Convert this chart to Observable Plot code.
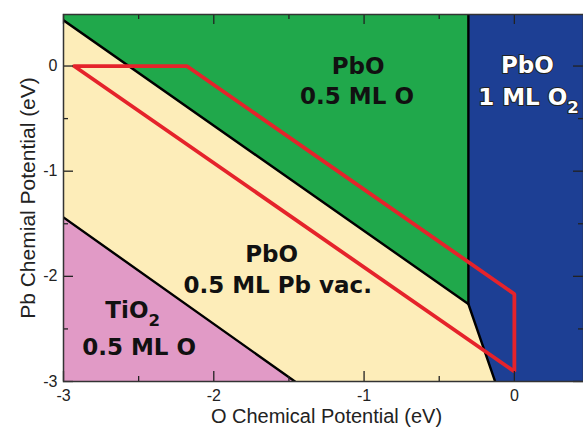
<!DOCTYPE html>
<html><head><meta charset="utf-8">
<script src="https://cdn.jsdelivr.net/npm/d3@7"></script>
<script src="https://cdn.jsdelivr.net/npm/@observablehq/plot@0.6"></script>
<style>body{margin:0;background:#fff} #chart svg{display:block}</style>
</head><body><div id="chart"></div>
<script>
// Axis extents and ticks (eV)
const xDomain = [-3, 0.46];
const yDomain = [-3, 0.49];
const majorTicks = [-3, -2, -1, 0];
const minorTicks = [-2.5, -1.5, -0.5];

// Phase regions (vertices, eV): x, lower y, upper y
const greenX = [-3, -0.306];
const greenLow = [0.435, -2.263];
const blueX = [-0.306, -0.128, 0.46];
const blueLow = [-2.263, -3, -3];
const pinkX = [-3, -1.46];
const pinkHigh = [-1.44, -3];

// Phase boundary lines (black)
const boundaryId = ["a", "a", "b", "b", "b", "c", "c"];
const boundaryX = [-3, -0.306, -0.306, -0.306, -0.128, -3, -1.46];
const boundaryY = [0.435, -2.263, 0.49, -2.263, -3, -1.44, -3];

// Red outlined region
const redX = [-2.93, -2.18, 0, 0, -2.93, -2.18];
const redY = [0, 0, -2.168, -2.905, 0, 0];

// Region labels (one entry per line)
const darkText = ["PbO", "0.5 ML O", "PbO", "0.5 ML Pb vac.", "TiO₂", "0.5 ML O"];
const darkX = [-1.040, -1.047, -1.615, -1.575, -2.540, -2.497];
const darkY = [-0.072, -0.365, -1.867, -2.162, -2.396, -2.746];
const lightText = ["PbO", "1 ML O₂"];
const lightX = [0.087, 0.094];
const lightY = [-0.067, -0.375];

const GREEN = "#20a84b", BLUE = "#1d3f94", BEIGE = "#fdedb9", PINK = "#e19ac6", RED = "#e5232b";
const FONT = "'Liberation Sans', Arial, sans-serif";
const LFONT = "'DejaVu Sans', sans-serif";

const W = 583, H = 427, ML = 63, MR = 0, MT = 14, MB = 46;
const FW = W - ML - MR, FH = H - MT - MB;

const idx = a => a.map((_, i) => i);
// inward ticks on all four sides
const TICK = {stroke: "#222", strokeWidth: 1.3};
const tickMarks = (ticks, len) => [
  Plot.tickX(ticks, {x: d => d, insetTop: FH - len, ...TICK}),
  Plot.tickX(ticks, {x: d => d, insetBottom: FH - len, ...TICK}),
  Plot.tickY(ticks, {y: d => d, insetRight: FW - len, ...TICK}),
  Plot.tickY(ticks, {y: d => d, insetLeft: FW - len, ...TICK})
];

const plot = Plot.plot({
  width: W, height: H,
  marginLeft: ML, marginRight: MR, marginTop: MT, marginBottom: MB,
  x: {domain: xDomain},
  y: {domain: yDomain},
  axis: null,
  style: {fontFamily: FONT, color: "#222", background: "#fff"},
  marks: [
    Plot.frame({fill: BEIGE}),
    Plot.areaY(idx(greenX), {x: i => greenX[i], y1: i => greenLow[i], y2: () => yDomain[1], fill: GREEN}),
    Plot.areaY(idx(blueX), {x: i => blueX[i], y1: i => blueLow[i], y2: () => yDomain[1], fill: BLUE}),
    Plot.areaY(idx(pinkX), {x: i => pinkX[i], y1: () => yDomain[0], y2: i => pinkHigh[i], fill: PINK}),
    Plot.line(idx(boundaryX), {x: i => boundaryX[i], y: i => boundaryY[i], z: i => boundaryId[i], stroke: "#000", strokeWidth: 2.4, clip: "frame"}),
    Plot.line(idx(redX), {x: i => redX[i], y: i => redY[i], stroke: RED, strokeWidth: 3.8, strokeLinejoin: "miter", clip: "frame"}),
    Plot.text(idx(darkText), {x: i => darkX[i], y: i => darkY[i], text: i => darkText[i], lineAnchor: "bottom", fontSize: 23, fontWeight: "bold", fontFamily: LFONT, fill: "#111"}),
    Plot.text(idx(lightText), {x: i => lightX[i], y: i => lightY[i], text: i => lightText[i], lineAnchor: "bottom", fontSize: 23, fontWeight: "bold", fontFamily: LFONT, fill: "#fff", stroke: "#222", strokeWidth: 2}),
    ...tickMarks(majorTicks, 10),
    ...tickMarks(minorTicks, 5),
    // tick labels
    Plot.axisX({ticks: majorTicks, anchor: "bottom", tickSize: 0, tickPadding: 8, tickFormat: d => String(d), label: null, fontSize: 16, fill: "#222"}),
    Plot.axisY({ticks: majorTicks, anchor: "left", tickSize: 0, tickPadding: 6, tickFormat: d => String(d), label: null, fontSize: 16, fill: "#222"}),
    Plot.frame({stroke: "#333", strokeWidth: 1.5}),
    // axis titles
    Plot.text(["O Chemical Potential (eV)"], {frameAnchor: "bottom", lineAnchor: "bottom", textAnchor: "middle", dy: 41.5, dx: 3, fontSize: 20, fill: "#222"}),
    Plot.text(["Pb Chemial Potential (eV)"], {frameAnchor: "left", lineAnchor: "bottom", textAnchor: "middle", rotate: -90, dx: -29, fontSize: 21, fill: "#222"})
  ]
});

// Render "₂" as a true subscript
const NS = "http://www.w3.org/2000/svg";
plot.querySelectorAll("text").forEach(t => {
  const targets = t.querySelectorAll("tspan").length ? Array.from(t.querySelectorAll("tspan")) : [t];
  targets.forEach(el => {
    const s = el.textContent;
    if (!s.includes("₂")) return;
    const parts = s.split("₂");
    el.textContent = "";
    parts.forEach((p, i) => {
      if (p) el.appendChild(document.createTextNode(p));
      if (i < parts.length - 1) {
        const sub = document.createElementNS(NS, "tspan");
        sub.setAttribute("font-size", "0.72em");
        sub.setAttribute("dy", "8");
        sub.textContent = "2";
        el.appendChild(sub);
      }
    });
  });
});

document.getElementById("chart").appendChild(plot);
</script>
</body></html>
